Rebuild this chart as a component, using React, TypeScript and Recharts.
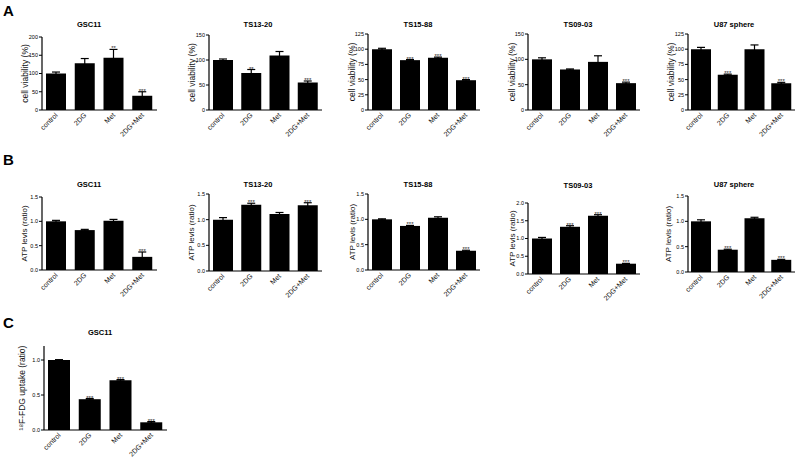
import { BarChart, Bar, XAxis, YAxis, ErrorBar, LabelList } from "recharts";

const categories = ["control", "2DG", "Met", "2DG+Met"];

// A: cell viability (%)
const gsc11Viability = [100, 128, 143, 39];
const gsc11ViabilityErr = [4, 13, 23, 11];
const gsc11ViabilitySig = ["", "", "**", "***"];
const ts1320Viability = [100, 74, 109, 55];
const ts1320ViabilityErr = [2, 7, 8, 3];
const ts1320ViabilitySig = ["", "**", "", "***"];
const ts1588Viability = [100, 82, 86, 49];
const ts1588ViabilityErr = [1.5, 1, 1, 1];
const ts1588ViabilitySig = ["", "***", "***", "***"];
const ts0903Viability = [100, 80, 95, 53];
const ts0903ViabilityErr = [3, 1, 12, 2];
const ts0903ViabilitySig = ["", "", "", "***"];
const u87Viability = [100, 58, 100, 44];
const u87ViabilityErr = [3, 1, 7, 1.5];
const u87ViabilitySig = ["", "***", "", "***"];

// B: ATP levels (ratio)
const gsc11Atp = [1.0, 0.82, 1.01, 0.27];
const gsc11AtpErr = [0.02, 0.015, 0.03, 0.1];
const gsc11AtpSig = ["", "", "", "***"];
const ts1320Atp = [1.0, 1.29, 1.11, 1.28];
const ts1320AtpErr = [0.04, 0.03, 0.03, 0.05];
const ts1320AtpSig = ["", "***", "", "***"];
const ts1588Atp = [1.0, 0.87, 1.03, 0.38];
const ts1588AtpErr = [0.01, 0.01, 0.02, 0.01];
const ts1588AtpSig = ["", "***", "", "***"];
const ts0903Atp = [1.0, 1.33, 1.64, 0.29];
const ts0903AtpErr = [0.03, 0.03, 0.03, 0.01];
const ts0903AtpSig = ["", "***", "***", "***"];
const u87Atp = [1.0, 0.44, 1.06, 0.24];
const u87AtpErr = [0.03, 0.01, 0.02, 0.01];
const u87AtpSig = ["", "***", "", "***"];

// C: 18F-FDG uptake
const gsc11Fdg = [1.0, 0.44, 0.71, 0.11];
const gsc11FdgErr = [0.005, 0.01, 0.01, 0.01];
const gsc11FdgSig = ["", "***", "***", "***"];

const ticks200 = [0, 50, 100, 150, 200];
const ticks150 = [0, 50, 100, 150];
const ticks125 = [0, 25, 50, 75, 100, 125];
const ticks15 = [0, 0.5, 1.0, 1.5];
const ticks20 = [0, 0.5, 1.0, 1.5, 2.0];
const ticks12 = [0, 0.5, 1.0];

const FONT = "'Liberation Sans', Arial, sans-serif";

const rows = (values: number[], errs: number[], sig: string[]) =>
  categories.map((name, i) => ({ name, value: values[i], err: errs[i], sig: sig[i] }));

function XTick(props: any) {
  const { x, y, payload } = props;
  return (
    <text
      x={x}
      y={y}
      transform={`rotate(-45 ${x} ${y})`}
      textAnchor="end"
      dy="0.35em"
      fontSize={7}
      fontFamily={FONT}
      fill="#111"
    >
      {payload.value}
    </text>
  );
}

const makeStars = (values: number[], errs: number[]) => (props: any) => {
  const { x, y, width, height, index, value } = props;
  if (!value) return null;
  const ppu = Number(height) / values[index];
  const top = Number(y) - errs[index] * ppu;
  return (
    <text x={Number(x) + Number(width) / 2} y={top + 1} textAnchor="middle" fontSize={6} fontFamily={FONT} fill="#222">
      {value}
    </text>
  );
};

type PanelProps = {
  values: number[];
  errs: number[];
  sig: string[];
  left: number;
  right: number;
  top: number;
  bottom: number;
  domain: [number, number];
  ticks: number[];
  decimals: number;
  yLabel: string;
  gap: number;
  barSize: number;
  labelSize?: number;
};

const AXIS_W = 34;
const XAXIS_H = 40;

function Panel(p: PanelProps) {
  const chartLeft = p.left - AXIS_W;
  const chartTop = p.top - 6;
  const width = p.right - chartLeft + 6;
  const height = p.bottom - chartTop + XAXIS_H;
  return (
    <div style={{ position: "absolute", left: chartLeft, top: chartTop }}>
      <BarChart
        width={width}
        height={height}
        data={rows(p.values, p.errs, p.sig)}
        margin={{ top: 6, right: 6, left: 0, bottom: 0 }}
      >
        <XAxis
          dataKey="name"
          height={XAXIS_H}
          axisLine={{ stroke: "#000", strokeWidth: 1.2 }}
          tickLine={false}
          tickSize={0}
          tickMargin={4}
          interval={0}
          tick={<XTick />}
        />
        <YAxis
          width={AXIS_W}
          domain={p.domain}
          ticks={p.ticks}
          allowDataOverflow
          interval={0}
          axisLine={{ stroke: "#000", strokeWidth: 1.2 }}
          tickLine={{ stroke: "#000" }}
          tickSize={3}
          tickMargin={1}
          tick={{ fontSize: 5.5, fill: "#000", fontFamily: FONT }}
          tickFormatter={(v: number) => v.toFixed(p.decimals)}
          label={{
            value: p.yLabel,
            angle: -90,
            position: "insideLeft",
            offset: AXIS_W - p.gap,
            style: { textAnchor: "middle", fontSize: p.labelSize ?? 8, fill: "#111", fontFamily: FONT },
          }}
        />
        <Bar dataKey="value" fill="#000" barSize={p.barSize} isAnimationActive={false}>
          <ErrorBar dataKey="err" direction="y" width={4} stroke="#000" strokeWidth={1.2} isAnimationActive={false} />
          <LabelList dataKey="sig" content={makeStars(p.values, p.errs)} />
        </Bar>
      </BarChart>
    </div>
  );
}

const colLeft = [42, 209, 368, 528, 688];
const colRight = [157, 322, 480, 640, 795];
const titleX = [89, 258, 418, 578, 734];
const cellLines = ["GSC11", "TS13-20", "TS15-88", "TS09-03", "U87 sphere"];

export default function App() {
  const viab = "cell viability (%)";
  const atp = "ATP levls (ratio)";
  const panels: PanelProps[] = [
    { values: gsc11Viability, errs: gsc11ViabilityErr, sig: gsc11ViabilitySig, left: colLeft[0], right: colRight[0], top: 37, bottom: 110, domain: [0, 200], ticks: ticks200, decimals: 0, yLabel: viab, gap: 17, barSize: 20, labelSize: 8.5 },
    { values: ts1320Viability, errs: ts1320ViabilityErr, sig: ts1320ViabilitySig, left: colLeft[1], right: colRight[1], top: 35, bottom: 110, domain: [0, 150], ticks: ticks150, decimals: 0, yLabel: viab, gap: 17, barSize: 20, labelSize: 8.5 },
    { values: ts1588Viability, errs: ts1588ViabilityErr, sig: ts1588ViabilitySig, left: colLeft[2], right: colRight[2], top: 34, bottom: 110, domain: [0, 125], ticks: ticks125, decimals: 0, yLabel: viab, gap: 16, barSize: 20, labelSize: 8.5 },
    { values: ts0903Viability, errs: ts0903ViabilityErr, sig: ts0903ViabilitySig, left: colLeft[3], right: colRight[3], top: 34, bottom: 110, domain: [0, 150], ticks: ticks150, decimals: 0, yLabel: viab, gap: 16, barSize: 20, labelSize: 8.5 },
    { values: u87Viability, errs: u87ViabilityErr, sig: u87ViabilitySig, left: colLeft[4], right: colRight[4], top: 34, bottom: 110, domain: [0, 125], ticks: ticks125, decimals: 0, yLabel: viab, gap: 17, barSize: 20, labelSize: 8.5 },
    { values: gsc11Atp, errs: gsc11AtpErr, sig: gsc11AtpSig, left: colLeft[0], right: colRight[0], top: 197, bottom: 270, domain: [0, 1.5], ticks: ticks15, decimals: 1, yLabel: atp, gap: 18, barSize: 20 },
    { values: ts1320Atp, errs: ts1320AtpErr, sig: ts1320AtpSig, left: colLeft[1], right: colRight[1], top: 194, bottom: 271, domain: [0, 1.5], ticks: ticks15, decimals: 1, yLabel: atp, gap: 18, barSize: 20 },
    { values: ts1588Atp, errs: ts1588AtpErr, sig: ts1588AtpSig, left: colLeft[2], right: colRight[2], top: 194, bottom: 270, domain: [0, 1.5], ticks: ticks15, decimals: 1, yLabel: atp, gap: 16, barSize: 20 },
    { values: ts0903Atp, errs: ts0903AtpErr, sig: ts0903AtpSig, left: colLeft[3], right: colRight[3], top: 203, bottom: 274, domain: [0, 2.0], ticks: ticks20, decimals: 1, yLabel: atp, gap: 16, barSize: 20 },
    { values: u87Atp, errs: u87AtpErr, sig: u87AtpSig, left: colLeft[4], right: colRight[4], top: 196, bottom: 272, domain: [0, 1.5], ticks: ticks15, decimals: 1, yLabel: atp, gap: 20, barSize: 20 },
    { values: gsc11Fdg, errs: gsc11FdgErr, sig: gsc11FdgSig, left: 44, right: 167, top: 346, bottom: 430, domain: [0, 1.2], ticks: ticks12, decimals: 1, yLabel: "¹⁸F-FDG uptake (ratio)", gap: 22, barSize: 22, labelSize: 8.5 },
  ];

  return (
    <div style={{ position: "absolute", left: 0, top: 0, width: 800, height: 460, background: "#fff", overflow: "hidden" }}>
      {panels.map((p, i) => (
        <Panel key={i} {...p} />
      ))}
      <svg width={800} height={460} style={{ position: "absolute", left: 0, top: 0, pointerEvents: "none" }}>
        <g fontFamily={FONT} fill="#000">
          <text x={3} y={16} fontSize={15} fontWeight="bold">A</text>
          <text x={3} y={165} fontSize={15} fontWeight="bold">B</text>
          <text x={3} y={328} fontSize={15} fontWeight="bold">C</text>
          {cellLines.map((name, i) => (
            <text key={"a" + i} x={titleX[i]} y={27} textAnchor="middle" fontSize={7.5} fontWeight="bold">{name}</text>
          ))}
          {cellLines.map((name, i) => (
            <text key={"b" + i} x={titleX[i]} y={i === 3 ? 188 : 187} textAnchor="middle" fontSize={7.5} fontWeight="bold">{name}</text>
          ))}
          <text x={100} y={335} textAnchor="middle" fontSize={7.5} fontWeight="bold">GSC11</text>
        </g>
      </svg>
    </div>
  );
}
